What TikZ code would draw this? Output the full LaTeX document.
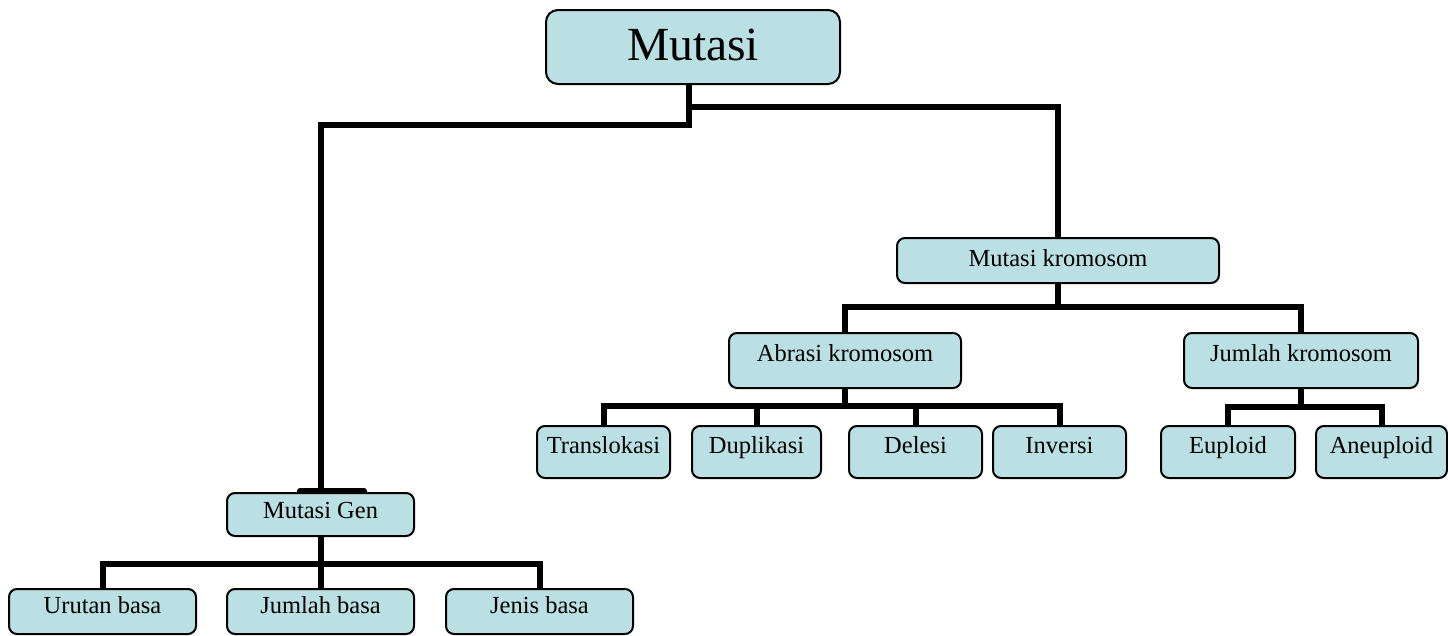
\documentclass[tikz,border=0pt]{standalone}
\usepackage{fontspec}
\setmainfont{Liberation Serif}
\usetikzlibrary{backgrounds}
\definecolor{boxfill}{RGB}{186,224,227}
\tikzset{
  box/.style={draw=black, line width=2, fill=boxfill, rounded corners=8,
    inner sep=0, anchor=north west, align=center,
    font=\fontsize{24.5}{24.5}\selectfont},
  bigbox/.style={box, rounded corners=12, font=\fontsize{47.5}{47.5}\selectfont},
  conn/.style={draw=black, line width=6, line join=miter},
}
\begin{document}
\begin{tikzpicture}[x=1pt,y=-1pt]
\useasboundingbox (0,0) rectangle (1448,635);
% junction levels
\coordinate (mkj) at (1057,307);
\coordinate (akj) at (844,406);
\coordinate (jkj) at (1300,407);
\coordinate (mgj) at (320,564);
% nodes
\node[bigbox, minimum width=294, text height=50, text depth=24] (m) at (545,9) {Mutasi};
\node[box, minimum width=322, text height=28, text depth=17] (mk) at (896,237) {Mutasi kromosom};
\node[box, minimum width=232, text height=28, text depth=27] (ak) at (728,332) {Abrasi kromosom};
\node[box, minimum width=234, text height=28, text depth=27] (jk) at (1183,332) {Jumlah kromosom};
\node[box, minimum width=133, text height=27, text depth=25] (tr) at (536,425) {Translokasi};
\node[box, minimum width=129, text height=27, text depth=25] (du) at (691,425) {Duplikasi};
\node[box, minimum width=133, text height=27, text depth=25] (de) at (848,425) {Delesi};
\node[box, minimum width=133, text height=27, text depth=25] (in) at (992,425) {Inversi};
\node[box, minimum width=134, text height=27, text depth=25] (eu) at (1160,425) {Euploid};
\node[box, minimum width=131, text height=27, text depth=25] (an) at (1315,425) {Aneuploid};
\node[box, minimum width=187, text height=25, text depth=18] (mg) at (226,492) {Mutasi Gen};
\node[box, minimum width=187, text height=24, text depth=21] (ub) at (8,588) {Urutan basa};
\node[box, minimum width=187, text height=24, text depth=21] (jb) at (226,588) {Jumlah basa};
\node[box, minimum width=187, text height=24, text depth=21] (nb) at (445,588) {Jenis basa};
\begin{scope}[on background layer]
% small dark tab peeking above Mutasi Gen
\fill[black, rounded corners=3] (297,488) rectangle (367,497);
% connectors
\draw[conn] ([xshift=-4]m.south) -- ++(0,22) -| (mk.north);
\draw[conn] ([xshift=-4]m.south) -- ++(0,40) -| (mg.north);
\draw[conn] (mk.south) -- (mk.south |- mkj);
\draw[conn] (ak.north) |- (mkj) -| (jk.north);
\draw[conn] (ak.south) -- (ak.south |- akj);
\draw[conn] (tr.north) |- (akj) -| (in.north);
\draw[conn] (du.north) -- (du.north |- akj);
\draw[conn] (de.north) -- (de.north |- akj);
\draw[conn] (jk.south) -- (jk.south |- jkj);
\draw[conn] (eu.north) |- (jkj) -| (an.north);
\draw[conn] (mg.south) -- (mg.south |- mgj);
\draw[conn] (ub.north) |- (mgj) -| (nb.north);
\draw[conn] (jb.north) -- (jb.north |- mgj);
\end{scope}
\end{tikzpicture}
\end{document}
